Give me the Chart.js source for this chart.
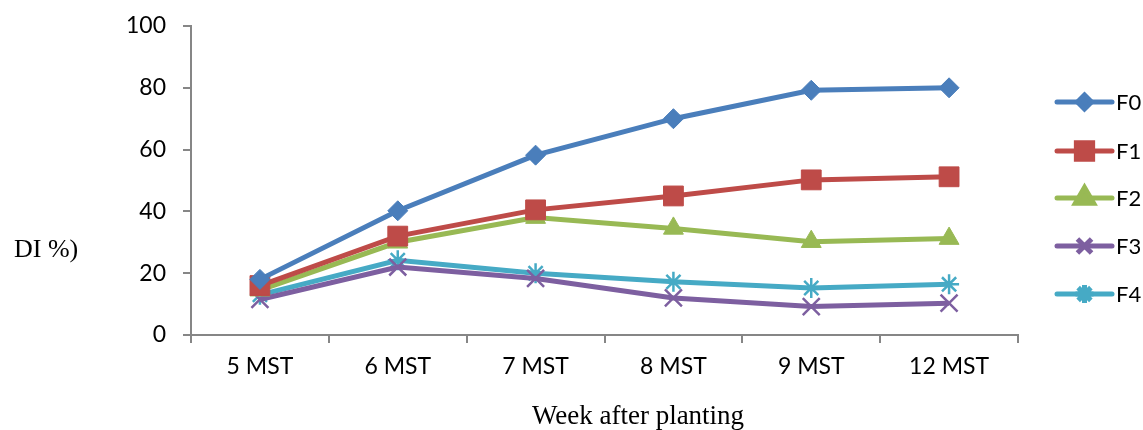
<!DOCTYPE html>
<html>
<head>
<meta charset="utf-8">
<script src="https://cdn.jsdelivr.net/npm/chart.js@4.4.0/dist/chart.umd.min.js"></script>
<style>
html,body{margin:0;padding:0;background:#fff;}
#wrap{width:1143px;height:430px;position:relative;}
</style>
</head>
<body>
<div id="wrap"><canvas id="c" width="1143" height="430"></canvas></div>
<script>
const categories = ["5 MST","6 MST","7 MST","8 MST","9 MST","12 MST"];
const seriesNames = ["F0","F1","F2","F3","F4"];
const F0 = [18, 40.2, 58.2, 70, 79.2, 80];
const F1 = [16, 32, 40.5, 45, 50.2, 51.2];
const F2 = [14.5, 30, 38, 34.5, 30.2, 31.2];
const F3 = [11.5, 22, 18.3, 12, 9.2, 10.3];
const F4 = [13, 24.2, 20, 17.2, 15.2, 16.4];
const yTicks = [0,20,40,60,80,100];
const yTitle = "DI %)";
const xTitle = "Week after planting";

const colors = ["#4A7EBB","#BE4B48","#98B954","#7D5FA0","#46AAC5"];
const styles = ["rectRot","rect","triangle","crossRot","star"];
const radii = [10,14,11.5,12,10];
const legendRadii = [7,11.5,10.5,10,9];
const values = [F0,F1,F2,F3,F4];

const datasets = seriesNames.map((n,i)=>({
  label:n, data:values[i], borderColor:colors[i], backgroundColor:colors[i],
  borderWidth:5, pointStyle:styles[i], pointRadius:radii[i], pointHoverRadius:radii[i],
  pointBorderWidth:(i>=3?2.5:1), pointBorderColor:colors[i], pointBackgroundColor:colors[i],
  tension:0
}));

const custom = {
  id:'custom',
  afterDraw(chart){
    const ctx = chart.ctx;
    ctx.save();
    ctx.fillStyle = "#000";
    ctx.font = '26px "Liberation Serif", "Times New Roman", serif';
    ctx.textBaseline = 'middle';
    ctx.textAlign = 'left';
    ctx.fillText(yTitle, 14, 250);
    ctx.font = '27px "Liberation Serif", "Times New Roman", serif';
    ctx.textAlign = 'center';
    ctx.fillText(xTitle, 638, 417);
    // legend
    const lx0 = 1057, lx1 = 1112;
    const ys = [102,151,198,246,294];
    ctx.font = '22px Lato, "Open Sans", sans-serif';
    ctx.textAlign = 'left';
    seriesNames.forEach((n,i)=>{
      const y = ys[i];
      ctx.strokeStyle = colors[i];
      ctx.lineWidth = 5;
      ctx.lineCap = 'round';
      ctx.beginPath(); ctx.moveTo(lx0,y); ctx.lineTo(lx1,y); ctx.stroke();
      ctx.fillStyle = colors[i];
      ctx.lineCap = 'butt';
      Chart.helpers.drawPoint(ctx, {pointStyle:styles[i], radius:legendRadii[i], borderWidth:(i>=3?2:1), rotation:0}, (lx0+lx1)/2, y);
      ctx.fillStyle = "#000";
      ctx.fillText(n, 1116, y+1);
    });
    ctx.restore();
  }
};

new Chart(document.getElementById('c'), {
  type:'line',
  data:{labels:categories, datasets},
  options:{
    responsive:false, animation:false,
    layout:{padding:{left:0,right:125,top:26,bottom:0}},
    plugins:{legend:{display:false}, tooltip:{enabled:false}},
    scales:{
      x:{
        offset:true,
        grid:{offset:true, drawOnChartArea:false, color:"#868686", tickLength:8, lineWidth:2},
        border:{color:"#868686", width:2},
        ticks:{color:"#000", font:{family:'Lato, "Open Sans", sans-serif', size:23}, padding:10, maxRotation:0},
        afterFit(s){ s.height = 95; s.paddingLeft = 0; s.paddingRight = 0; }
      },
      y:{
        min:0, max:100,
        afterBuildTicks(s){ s.ticks = yTicks.map(v=>({value:v})); },
        grid:{drawOnChartArea:false, color:"#868686", tickLength:8, lineWidth:2},
        border:{color:"#868686", width:2},
        ticks:{color:"#000", font:{family:'Lato, "Open Sans", sans-serif', size:23}, padding:17},
        afterFit(s){ s.width = 191; s.paddingTop = 0; s.paddingBottom = 0; }
      }
    }
  },
  plugins:[custom]
});
</script>
</body>
</html>
